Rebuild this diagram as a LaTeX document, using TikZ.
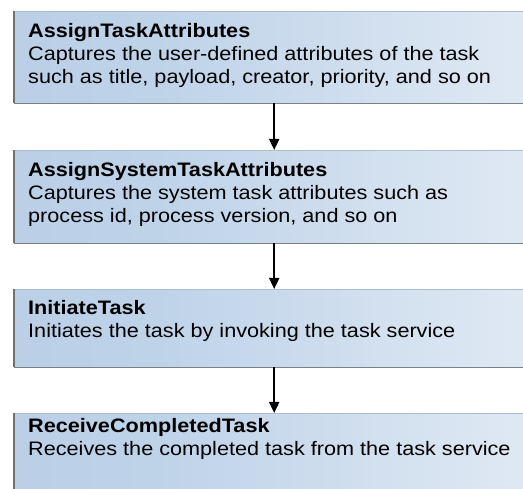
\documentclass[tikz,border=0pt]{standalone}
\usepackage{fontspec}
\setmainfont{Liberation Sans}[FakeStretch=1.11]
\usetikzlibrary{arrows.meta}
\definecolor{boxL}{RGB}{180,204,228}
\definecolor{boxM}{RGB}{190,210,232}
\definecolor{boxR}{RGB}{246,249,252}
\definecolor{edgeTop}{RGB}{170,190,210}
\definecolor{edgeLeft}{RGB}{112,112,112}
\definecolor{edgeBot}{RGB}{120,128,136}
\pgfdeclarehorizontalshading{boxshade}{100bp}{color(0bp)=(boxL); color(38bp)=(boxM); color(100bp)=(boxR)}
\begin{document}
\begin{tikzpicture}[x=1pt,y=-1pt,
  stepbox/.style={rectangle, draw=none, shading=boxshade, minimum width=520pt, inner sep=0pt, anchor=north west},
  txt/.style={inner sep=0pt, align=left, anchor=base west, font=\fontsize{19.5}{23}\selectfont},
  edgeleft/.style={draw=edgeLeft, line width=1.3pt},
  edgebot/.style={draw=edgeBot, line width=1.6pt},
  edgetop/.style={draw=edgeTop, line width=0.8pt},
  flow/.style={draw=black, line width=1.8pt, -{Triangle[length=11pt,width=10pt]}}]
\useasboundingbox (0,0) rectangle (523,489);
\clip (0,0) rectangle (523,489);
\node[stepbox, minimum height=92pt] (b1) at (14,11) {};
\node[stepbox, minimum height=93pt] (b2) at (14,150) {};
\node[stepbox, minimum height=78pt] (b3) at (14,289) {};
\node[stepbox, minimum height=90pt] (b4) at (14,413) {};
\foreach \b in {b1,b2,b3,b4}{
  \draw[edgetop] (\b.north west) -- (\b.north east);
  \draw[edgeleft] (\b.north west) -- (\b.south west);
}
\foreach \b in {b1,b2,b3}{
  \draw[edgebot] (\b.south west) -- (\b.south east);
}
\node[txt] (t1) at (28,84) {\textbf{AssignTaskAttributes}\\Captures the user-defined attributes of the task\\such as title, payload, creator, priority, and so on};
\node[txt] (t2) at (28,223) {\textbf{AssignSystemTaskAttributes}\\Captures the system task attributes such as\\process id, process version, and so on};
\node[txt] (t3) at (28,338) {\textbf{InitiateTask}\\Initiates the task by invoking the task service};
\node[txt] (t4) at (28,456) {\textbf{ReceiveCompletedTask}\\Receives the completed task from the task service};
\draw[flow] (b1.south) -- (b2.north);
\draw[flow] (b2.south) -- (b3.north);
\draw[flow] (b3.south) -- (b4.north);
\end{tikzpicture}
\end{document}
